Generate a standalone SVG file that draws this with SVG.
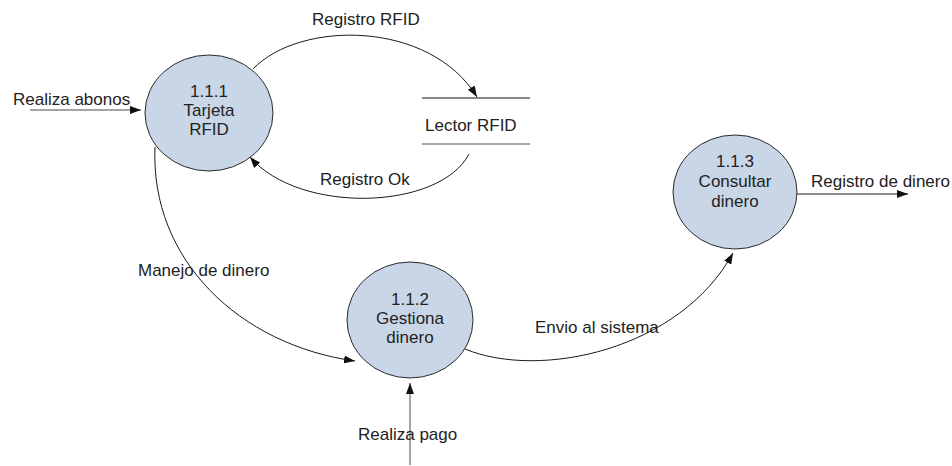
<svg xmlns="http://www.w3.org/2000/svg" width="952" height="466" viewBox="0 0 952 466">
  <style>
    text { font-family: "Liberation Sans", Arial, sans-serif; font-size: 17px; fill: #222; }
    .proc ellipse { fill: #c9d6e8; stroke: #2a2a2a; stroke-width: 1; }
    .proc text { text-anchor: middle; }
    .flow { fill: none; stroke: #1a1a1a; stroke-width: 1; marker-end: url(#arrow); }
    .flow.ext { stroke: #4a4a4a; }
  </style>
  <defs>
    <marker id="arrow" markerUnits="userSpaceOnUse" markerWidth="11" markerHeight="8" refX="11" refY="4" orient="auto">
      <path d="M0,0 L11,4 L0,8 z" fill="#111"/>
    </marker>
  </defs>

  <rect width="952" height="466" fill="#ffffff"/>

  <!-- Processes -->
  <g id="p111" class="proc">
    <ellipse cx="209" cy="113" rx="64" ry="58"/>
    <text x="209" y="97">1.1.1</text>
    <text x="209" y="116">Tarjeta</text>
    <text x="209" y="135">RFID</text>
  </g>
  <g id="p112" class="proc">
    <ellipse cx="410" cy="320" rx="63" ry="58"/>
    <text x="410" y="305">1.1.2</text>
    <text x="410" y="324">Gestiona</text>
    <text x="410" y="343">dinero</text>
  </g>
  <g id="p113" class="proc">
    <ellipse cx="735" cy="192" rx="62" ry="57"/>
    <text x="735" y="167">1.1.3</text>
    <text x="735" y="187">Consultar</text>
    <text x="735" y="207">dinero</text>
  </g>

  <!-- Data store -->
  <g id="lector">
    <line x1="422" y1="98" x2="530" y2="98" stroke="#111" stroke-width="1"/>
    <line x1="422" y1="144" x2="530" y2="144" stroke="#555" stroke-width="1.2"/>
    <text x="425" y="131">Lector RFID</text>
  </g>

  <!-- Data flows -->
  <g id="flows">
    <path class="flow" d="M253,69 C300,20 430,20 477,97"/>
    <path class="flow" d="M469,154 C440,210 300,215 250,157"/>
    <path class="flow" d="M155,147 C150,260 240,345 355,361"/>
    <path class="flow" d="M465,349 C540,380 680,350 733,253"/>
    <path class="flow" d="M797,194 L908,194"/>
    <path class="flow ext" d="M30,110 L141,110"/>
    <path class="flow ext" d="M410,465 L410,383"/>

    <text x="312" y="25">Registro RFID</text>
    <text x="320" y="185">Registro Ok</text>
    <text x="13" y="105">Realiza abonos</text>
    <text x="138" y="276">Manejo de dinero</text>
    <text x="535" y="333">Envio al sistema</text>
    <text x="811" y="187">Registro de dinero</text>
    <text x="358" y="440">Realiza pago</text>
  </g>
</svg>
